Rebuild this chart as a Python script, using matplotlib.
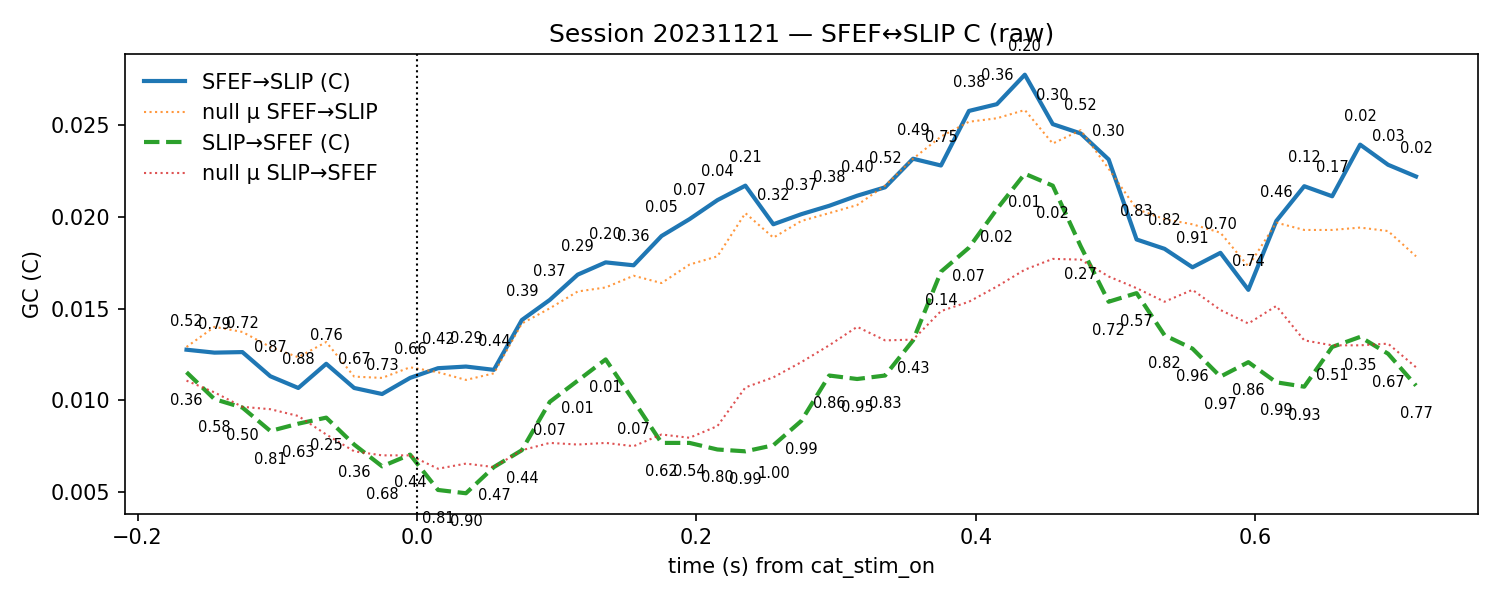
import numpy as np
import matplotlib.pyplot as plt

times = -0.165 + 0.02 * np.arange(45)

gc_ab = [0.01275, 0.01259, 0.01262, 0.0113, 0.01066, 0.01198, 0.01066, 0.01033, 0.01121, 0.01174,
         0.01183, 0.01165, 0.01437, 0.01547, 0.01685, 0.01752, 0.01736, 0.01896, 0.01988, 0.02092,
         0.02171, 0.0196, 0.02015, 0.02061, 0.02116, 0.02162, 0.02318, 0.02281, 0.02579, 0.02616,
         0.02777, 0.02507, 0.02456, 0.02314, 0.01877, 0.01826, 0.01725, 0.01804, 0.01602, 0.01978,
         0.02168, 0.02113, 0.02395, 0.02285, 0.02221]
null_ab = [0.0129, 0.0140, 0.01372, 0.0129, 0.01234, 0.01317, 0.01128, 0.01121, 0.01179, 0.01152,
           0.0111, 0.01146, 0.01418, 0.01501, 0.01593, 0.01615, 0.01679, 0.01639, 0.0174, 0.01785,
           0.02021, 0.01887, 0.01978, 0.02021, 0.02065, 0.02171, 0.02318, 0.02439, 0.0252, 0.02539,
           0.02584, 0.02401, 0.02474, 0.02263, 0.02043, 0.01988, 0.0196, 0.01914, 0.0173, 0.01969,
           0.01929, 0.01929, 0.01942, 0.01923, 0.01785]
gc_ba = [0.01152, 0.01005, 0.00959, 0.00831, 0.00871, 0.00904, 0.00757, 0.00638, 0.00702, 0.00509,
         0.00491, 0.00634, 0.00726, 0.0099, 0.01106, 0.01222, 0.00996, 0.00766, 0.00766, 0.0073,
         0.0072, 0.00753, 0.00886, 0.01134, 0.01115, 0.01134, 0.01326, 0.01701, 0.01832, 0.02043,
         0.02236, 0.02171, 0.0184, 0.01537, 0.01584, 0.01354, 0.01281, 0.01128, 0.01207, 0.01097,
         0.01073, 0.0129, 0.01345, 0.01253, 0.01079]
null_ba = [0.01106, 0.01042, 0.00963, 0.0095, 0.00913, 0.00812, 0.0072, 0.00698, 0.00698, 0.00625,
           0.00653, 0.00634, 0.00726, 0.00766, 0.00757, 0.00766, 0.00748, 0.00812, 0.00794, 0.00858,
           0.01069, 0.01124, 0.01207, 0.01299, 0.014, 0.01326, 0.0133, 0.01486, 0.01537, 0.0162,
           0.01712, 0.01771, 0.01767, 0.01675, 0.01611, 0.01537, 0.01602, 0.01492, 0.01418, 0.01514,
           0.01326, 0.01299, 0.01299, 0.01308, 0.01179]
p_ab = [0.52, 0.79, 0.72, 0.87, 0.88, 0.76, 0.67, 0.73, 0.66, 0.42, 0.29, 0.44, 0.39, 0.37, 0.29,
        0.20, 0.36, 0.05, 0.07, 0.04, 0.21, 0.32, 0.37, 0.38, 0.40, 0.52, 0.49, 0.75, 0.38, 0.36,
        0.20, 0.30, 0.52, 0.30, 0.83, 0.82, 0.91, 0.70, 0.74, 0.46, 0.12, 0.17, 0.02, 0.03, 0.02]
p_ba = [0.36, 0.58, 0.50, 0.81, 0.63, 0.25, 0.36, 0.68, 0.44, 0.81, 0.90, 0.47, 0.44, 0.07, 0.01,
        0.01, 0.07, 0.62, 0.54, 0.80, 0.99, 1.00, 0.99, 0.86, 0.95, 0.83, 0.43, 0.14, 0.07, 0.02,
        0.01, 0.02, 0.27, 0.72, 0.57, 0.82, 0.96, 0.97, 0.86, 0.99, 0.93, 0.51, 0.35, 0.67, 0.77]

fig, ax = plt.subplots(figsize=(10, 4), dpi=150)
ax.plot(times, gc_ab, color="tab:blue", lw=2, label="SFEF→SLIP (C)")
ax.plot(times, null_ab, color="tab:orange", lw=1, ls=":", alpha=0.8, label="null μ SFEF→SLIP")
ax.plot(times, gc_ba, color="tab:green", lw=2, ls="--", label="SLIP→SFEF (C)")
ax.plot(times, null_ba, color="tab:red", lw=1, ls=":", alpha=0.8, label="null μ SLIP→SFEF")

for t, v, p in zip(times, gc_ab, p_ab):
    ax.annotate(f"{p:.2f}", (t, v), xytext=(0, 10), textcoords="offset points",
                ha="center", va="bottom", fontsize=7)
for t, v, p in zip(times, gc_ba, p_ba):
    ax.annotate(f"{p:.2f}", (t, v), xytext=(0, -10), textcoords="offset points",
                ha="center", va="top", fontsize=7)

ax.axvline(0, color="k", ls=":", lw=1)
ax.set_ylim(0.0038, 0.0289)
ax.set_xlabel("time (s) from cat_stim_on")
ax.set_ylabel("GC (C)")
ax.set_title("Session 20231121 — SFEF↔SLIP C (raw)")
ax.legend(loc="upper left", frameon=False)
fig.tight_layout()
fig.savefig("out.png")
